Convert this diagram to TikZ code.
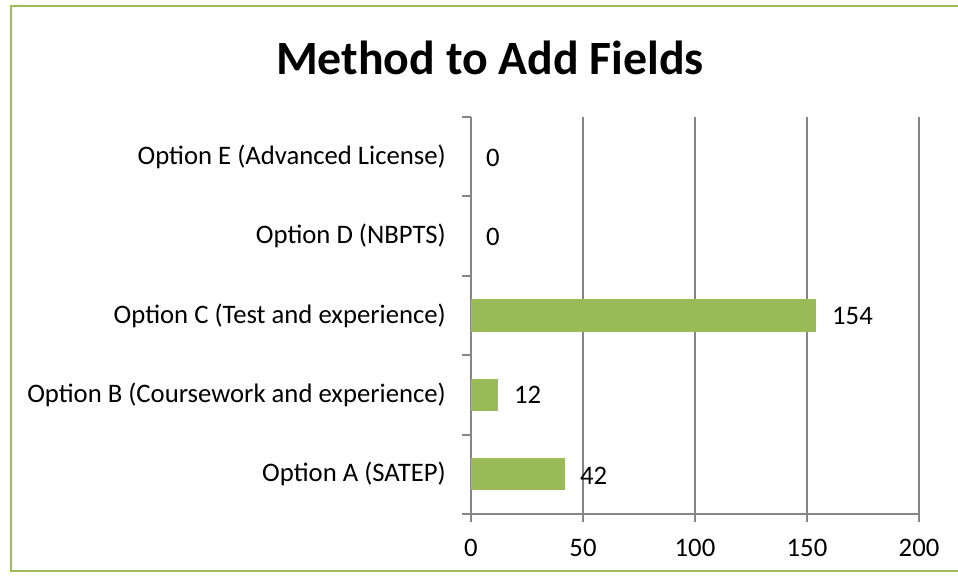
\documentclass[tikz,border=0pt]{standalone}
\usepackage{fontspec}
\setmainfont{Carlito}
\definecolor{bargreen}{HTML}{9BBB59}
\definecolor{gridgray}{HTML}{868686}
\begin{document}
\begin{tikzpicture}[x=1pt,y=-1pt,
  catlabel/.style={anchor=east,inner sep=0pt,font=\fontsize{26.7}{30}\selectfont},
  vallabel/.style={anchor=west,inner sep=0pt,font=\fontsize{26.7}{30}\selectfont},
  ticklabel/.style={anchor=center,inner sep=0pt,font=\fontsize{26.7}{30}\selectfont},
  bar/.style={fill=bargreen,draw=none},
  grid/.style={draw=gridgray,line width=1.8pt},
  frame/.style={draw=bargreen,line width=2.6pt}]
\useasboundingbox (0,0) rectangle (958,580);
% frame
\draw[frame] (970,6) -- (11,6) -- (11,571) -- (970,571);
% title
\node[inner sep=0pt,font=\bfseries\fontsize{47.8}{54}\selectfont] (title) at (490,58) {Method to Add Fields};
% gridlines
\foreach \v in {50,100,150,200}{
  \draw[grid] ({471+\v*2.24},117) -- ({471+\v*2.24},522);
}
% axes
\draw[grid] (471,117) -- (471,522);
\draw[grid] (471,514) -- (919,514);
\foreach \y in {117,196.4,275.8,355.2,434.6,514}{
  \draw[grid] (462,\y) -- (471,\y);
}
% bars
\fill[bar] (471,458) rectangle ({471+42*2.24},490);
\fill[bar] (471,379) rectangle ({471+12*2.24},411);
\fill[bar] (471,299) rectangle ({471+154*2.24},332);
% category labels
\node[catlabel] (cE) at (446,157) {Option E (Advanced License)};
\node[catlabel] (cD) at (446,236) {Option D (NBPTS)};
\node[catlabel] (cC) at (446,315.5) {Option C (Test and experience)};
\node[catlabel] (cB) at (446,395) {Option B (Coursework and experience)};
\node[catlabel] (cA) at (446,474) {Option A (SATEP)};
% value labels
\node[vallabel] (vE) at (486,158) {0};
\node[vallabel] (vD) at (486,237) {0};
\node[vallabel] (vC) at (832,316) {154};
\node[vallabel] (vB) at (514,395) {12};
\node[vallabel] (vA) at (580,476) {42};
% tick labels
\node[ticklabel] (t0) at (471,548) {0};
\node[ticklabel] (t50) at (583,548) {50};
\node[ticklabel] (t100) at (695,548) {100};
\node[ticklabel] (t150) at (807,548) {150};
\node[ticklabel] (t200) at (919,548) {200};
\end{tikzpicture}
\end{document}
